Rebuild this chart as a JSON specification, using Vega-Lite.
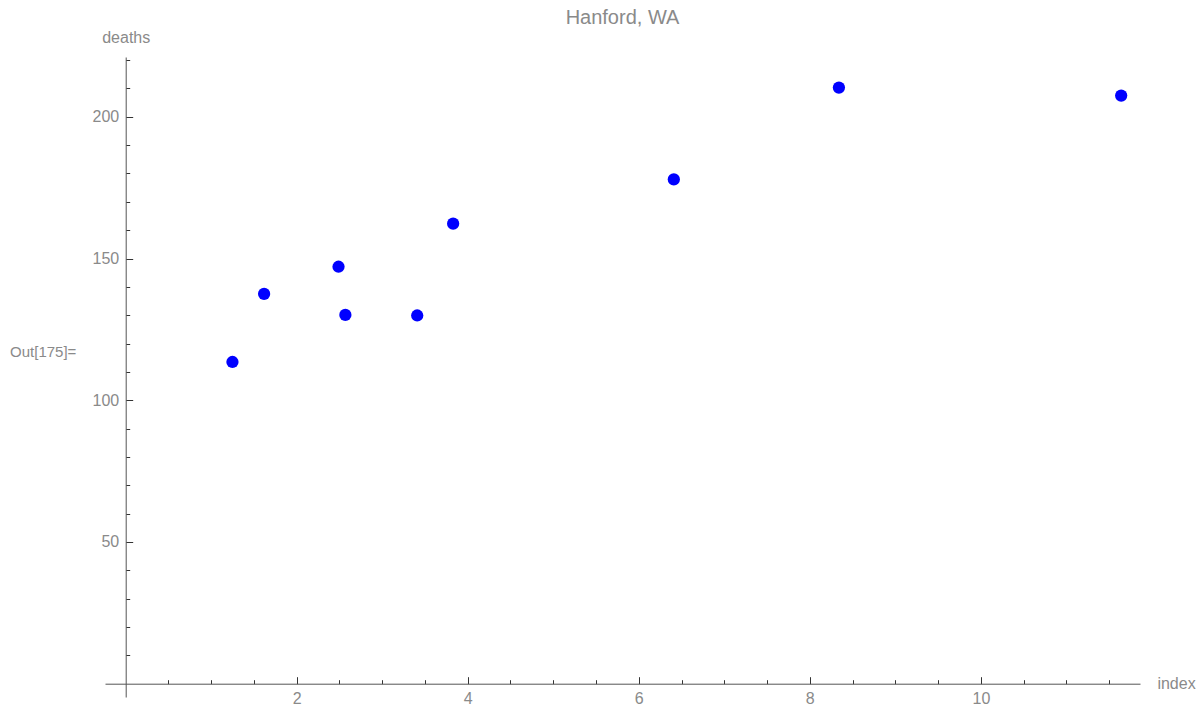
{
  "$schema": "https://vega.github.io/schema/vega-lite/v6.json",
  "autosize": "none",
  "width": 1035,
  "height": 640,
  "padding": {"left": 105, "top": 57, "right": 61, "bottom": 10},
  "background": "white",
  "config": {
    "view": {"stroke": null},
    "font": "Liberation Sans"
  },
  "title": {
    "text": "Hanford, WA",
    "fontSize": 20,
    "fontWeight": "normal",
    "color": "#8a8a8a",
    "anchor": "middle",
    "frame": "group",
    "baseline": "middle",
    "offset": -9
  },
  "data": {
    "values": [
      {"index": 8.34, "deaths": 210.3},
      {"index": 6.41, "deaths": 177.9},
      {"index": 3.41, "deaths": 129.9},
      {"index": 3.83, "deaths": 162.3},
      {"index": 2.57, "deaths": 130.1},
      {"index": 11.64, "deaths": 207.5},
      {"index": 1.25, "deaths": 113.5},
      {"index": 2.49, "deaths": 147.1},
      {"index": 1.62, "deaths": 137.5}
    ]
  },
  "resolve": {"axis": {"x": "independent", "y": "independent"}},
  "layer": [
    {
      "mark": {"type": "point", "filled": true, "opacity": 0},
      "encoding": {
        "x": {
          "field": "index",
          "type": "quantitative",
          "scale": {"domain": [-0.24, 11.86], "nice": false, "zero": false},
          "axis": {
            "orient": "bottom",
            "offset": -13.3,
            "values": [0.5, 1, 1.5, 2.5, 3, 3.5, 4.5, 5, 5.5, 6.5, 7, 7.5, 8.5, 9, 9.5, 10.5, 11, 11.5],
            "labels": false,
            "domain": false,
            "grid": false,
            "tickSize": -4,
            "tickColor": "#333333",
            "tickWidth": 1,
            "title": null
          }
        },
        "y": {
          "field": "deaths",
          "type": "quantitative",
          "scale": {"domain": [-4.7, 221.1], "nice": false, "zero": false},
          "axis": {
            "orient": "left",
            "offset": -20.7,
            "values": [10, 20, 30, 40, 60, 70, 80, 90, 110, 120, 130, 140, 160, 170, 180, 190, 210, 220],
            "labels": false,
            "domain": false,
            "grid": false,
            "tickSize": -4,
            "tickColor": "#333333",
            "tickWidth": 1,
            "title": null
          }
        }
      }
    },
    {
      "mark": {"type": "point", "filled": true, "size": 150, "color": "#0000ff", "opacity": 1},
      "encoding": {
        "x": {
          "field": "index",
          "type": "quantitative",
          "axis": {
            "orient": "bottom",
            "offset": -13.3,
            "values": [2, 4, 6, 8, 10],
            "format": "d",
            "tickSize": -7,
            "tickColor": "#333333",
            "tickWidth": 1,
            "domainColor": "#555555",
            "domainWidth": 1,
            "grid": false,
            "labelFont": "Liberation Sans",
            "labelFontSize": 16,
            "labelColor": "#8a8a8a",
            "labelPadding": 14,
            "labelFlush": false,
            "labelOverlap": false,
            "title": "index",
            "titleFont": "Liberation Sans",
            "titleFontSize": 16,
            "titleFontWeight": "normal",
            "titleColor": "#8a8a8a",
            "titleX": 1071,
            "titleY": 0,
            "titleAlign": "center",
            "titleBaseline": "middle"
          }
        },
        "y": {
          "field": "deaths",
          "type": "quantitative",
          "axis": {
            "orient": "left",
            "offset": -20.7,
            "values": [50, 100, 150, 200],
            "format": "d",
            "tickSize": -7,
            "tickColor": "#333333",
            "tickWidth": 1,
            "domainColor": "#555555",
            "domainWidth": 1,
            "grid": false,
            "labelFont": "Liberation Sans",
            "labelFontSize": 16,
            "labelColor": "#8a8a8a",
            "labelPadding": 14,
            "labelFlush": false,
            "labelOverlap": false,
            "title": "deaths",
            "titleFont": "Liberation Sans",
            "titleFontSize": 16,
            "titleFontWeight": "normal",
            "titleColor": "#8a8a8a",
            "titleAngle": 0,
            "titleX": 0,
            "titleY": -20,
            "titleAlign": "center",
            "titleBaseline": "middle"
          }
        }
      }
    },
    {
      "data": {"values": [{"label": "Out[175]="}]},
      "mark": {"type": "text", "align": "left", "baseline": "middle", "fontSize": 15, "color": "#8a8a8a", "font": "Liberation Sans", "clip": false},
      "encoding": {
        "text": {"field": "label"},
        "x": {"datum": -1.35, "type": "quantitative", "axis": null},
        "y": {"datum": 117, "type": "quantitative", "axis": null}
      }
    }
  ]
}
